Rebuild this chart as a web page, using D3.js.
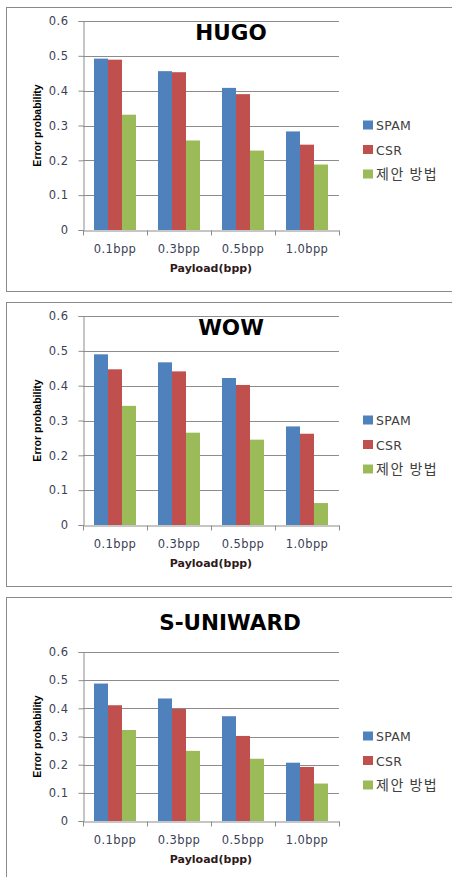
<!DOCTYPE html>
<html>
<head>
<meta charset="utf-8">
<script src="https://cdn.jsdelivr.net/npm/d3@7/dist/d3.min.js"></script>
<style>
  html, body { margin: 0; padding: 0; background: #fff; }
  svg { display: block; }
</style>
</head>
<body>
<svg id="chart" width="452" height="877"></svg>
<script>
// Payload levels on the x axis
const categories = ["0.1bpp", "0.3bpp", "0.5bpp", "1.0bpp"];
// Detectors compared in every panel
const seriesNames = ["SPAM", "CSR", "제안 방법"];
const yTicks = [0, 0.1, 0.2, 0.3, 0.4, 0.5, 0.6];

// Error probability per detector, one array per steganography method
const hugoSpam = [0.492, 0.456, 0.408, 0.283];
const hugoCsr = [0.489, 0.453, 0.390, 0.245];
const hugoProposed = [0.331, 0.257, 0.228, 0.188];

const wowSpam = [0.490, 0.467, 0.422, 0.283];
const wowCsr = [0.447, 0.441, 0.402, 0.262];
const wowProposed = [0.342, 0.265, 0.245, 0.063];

const suniSpam = [0.488, 0.435, 0.372, 0.207];
const suniCsr = [0.411, 0.398, 0.302, 0.192];
const suniProposed = [0.323, 0.249, 0.221, 0.133];

const colors = ["#4F81BD", "#C0504D", "#9BBB59"];

// Panel layout (frame, plot area, title and legend placement)
const panels = [
  { title: "HUGO", values: [hugoSpam, hugoCsr, hugoProposed],
    boxTop: 7, boxBottom: 291, plotTop: 21, plotBottom: 230,
    titleY: 40, titleX: 231, legendY: 125 },
  { title: "WOW", values: [wowSpam, wowCsr, wowProposed],
    boxTop: 302, boxBottom: 586, plotTop: 316, plotBottom: 525,
    titleY: 335, titleX: 231, legendY: 420 },
  { title: "S-UNIWARD", values: [suniSpam, suniCsr, suniProposed],
    boxTop: 597, boxBottom: 890, plotTop: 652, plotBottom: 821,
    titleY: 630, titleX: 230, legendY: 736 }
];

const svg = d3.select("#chart");
const plotLeft = 83, plotRight = 339;
const tickFont = "'DejaVu Sans', Verdana, sans-serif";

panels.forEach(p => {
  const g = svg.append("g");

  // outer frame
  g.append("rect")
    .attr("x", 6.5).attr("y", p.boxTop + 0.5)
    .attr("width", 460).attr("height", p.boxBottom - p.boxTop)
    .attr("fill", "#fff").attr("stroke", "#8a8a8a").attr("stroke-width", 1);

  const y = d3.scaleLinear().domain([0, 0.6]).range([p.plotBottom, p.plotTop]);
  const x0 = d3.scaleBand().domain(categories).range([plotLeft, plotRight]).padding(0);
  const x1 = d3.scaleBand().domain(seriesNames).range([0, x0.bandwidth()])
    .paddingInner(0).paddingOuter(0.786);

  // horizontal gridlines
  g.append("g").selectAll("line").data(yTicks.filter(t => t > 0)).join("line")
    .attr("x1", plotLeft).attr("x2", plotRight)
    .attr("y1", d => Math.round(y(d)) + 0.5).attr("y2", d => Math.round(y(d)) + 0.5)
    .attr("stroke", "#8c8c8c").attr("stroke-width", 1);

  // bars
  seriesNames.forEach((s, si) => {
    g.append("g").selectAll("rect").data(categories).join("rect")
      .attr("x", c => x0(c) + x1(s))
      .attr("y", (c, ci) => y(p.values[si][ci]))
      .attr("width", x1.bandwidth())
      .attr("height", (c, ci) => y(0) - y(p.values[si][ci]))
      .attr("fill", colors[si]);
  });

  // y axis
  const yAxis = d3.axisLeft(y).tickValues(yTicks).tickSize(5).tickPadding(10)
    .tickFormat(d => d === 0 ? "0" : d3.format(".1f")(d));
  const ya = g.append("g").attr("transform", `translate(${plotLeft + 0.5},0)`).call(yAxis);
  ya.select(".domain").attr("stroke", "#8c8c8c");
  ya.selectAll(".tick line").attr("stroke", "#8c8c8c");
  ya.selectAll(".tick text").attr("fill", "#3c3f55")
    .style("font-family", tickFont).style("font-size", "11.5px")
    .style("letter-spacing", "0.5px");

  // x axis with ticks on category boundaries
  const xa = g.append("g").attr("transform", `translate(0,${Math.round(y(0)) + 0.5})`)
    .call(d3.axisBottom(x0).tickSize(0).tickPadding(14));
  xa.select(".domain").attr("stroke", "#8c8c8c");
  xa.selectAll(".tick text").attr("fill", "#3c3f55")
    .style("font-family", tickFont).style("font-size", "11.5px")
    .style("letter-spacing", "0.4px");
  xa.append("g").selectAll("line").data(categories.concat(["end"])).join("line")
    .attr("x1", (d, i) => Math.round(plotLeft + i * x0.step()) + 0.5)
    .attr("x2", (d, i) => Math.round(plotLeft + i * x0.step()) + 0.5)
    .attr("y1", 0).attr("y2", 5).attr("stroke", "#8c8c8c");

  // x axis title
  g.append("text")
    .attr("x", (plotLeft + plotRight) / 2).attr("y", p.plotBottom + 42)
    .attr("text-anchor", "middle")
    .style("font-family", tickFont).style("font-weight", "bold").style("font-size", "11px")
    .attr("fill", "#2e1a1a").text("Payload(bpp)");

  // y axis title
  g.append("text")
    .attr("transform", `translate(41,${(p.plotTop + p.plotBottom) / 2}) rotate(-90)`)
    .attr("text-anchor", "middle")
    .style("font-family", "'Liberation Sans', Arial, sans-serif")
    .style("font-weight", "bold").style("font-size", "10.5px")
    .attr("fill", "#000").text("Error probability");

  // chart title
  g.append("text")
    .attr("x", p.titleX).attr("y", p.titleY)
    .attr("text-anchor", "middle")
    .style("font-family", tickFont).style("font-weight", "bold").style("font-size", "21.5px")
    .attr("fill", "#000").text(p.title);

  // legend
  const lg = g.append("g").attr("transform", `translate(363,${p.legendY})`);
  seriesNames.forEach((s, si) => {
    const row = lg.append("g").attr("transform", `translate(0,${si * 24.5})`);
    row.append("rect").attr("x", 0).attr("y", -4.5).attr("width", 10).attr("height", 9)
      .attr("fill", colors[si]);
    row.append("text").attr("x", 13).attr("y", 5)
      .style("font-family", si === 2 ? "'Noto Sans CJK KR', sans-serif" : tickFont)
      .style("font-size", si === 2 ? "14px" : "12.5px")
      .style("letter-spacing", si === 2 ? "1.5px" : "0.3px")
      .attr("fill", "#404040").text(s);
  });
});
</script>
</body>
</html>
